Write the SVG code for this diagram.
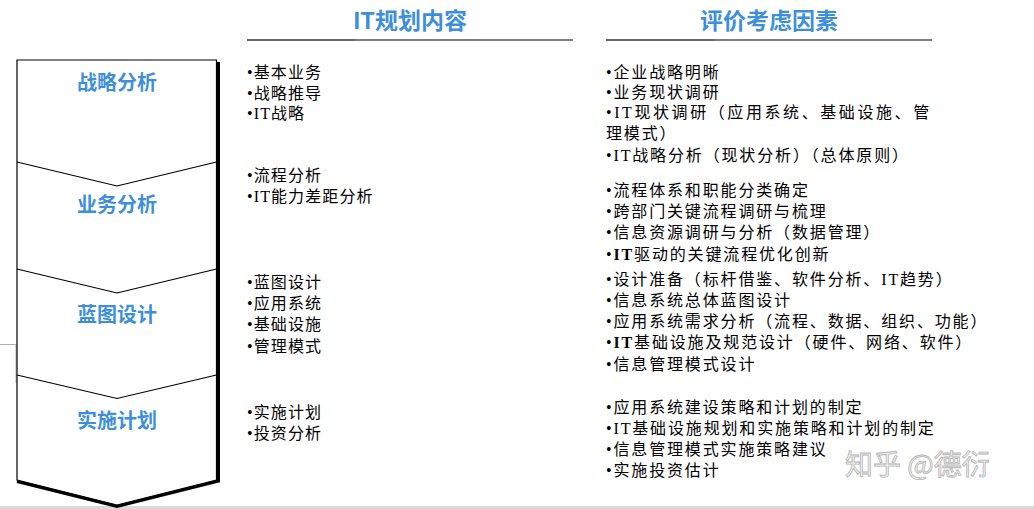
<svg xmlns="http://www.w3.org/2000/svg" width="1034" height="509" viewBox="0 0 1034 509">
<style>
.body{font-family:"Liberation Serif","Noto Sans CJK SC",serif;font-size:16px;fill:#000;letter-spacing:1.85px}
.lc{letter-spacing:1.1px}
.hd{font-family:"Noto Sans CJK SC","Liberation Sans",sans-serif;font-size:23px;font-weight:bold;fill:#3d8fdb;text-anchor:middle}
.stage{font-family:"Noto Sans CJK SC","Liberation Sans",sans-serif;font-size:20px;font-weight:bold;fill:#3d8fdb;text-anchor:middle}
.div{fill:none;stroke:#000;stroke-width:1.2}
</style>
<rect x="0" y="0" width="1034" height="509" fill="#fff"/>
<!-- background artifacts -->
<rect x="0" y="506" width="1034" height="3" fill="#d9d9d9"/>
<path d="M0,344.5 H16 V383" fill="none" stroke="#b0b0b0" stroke-width="1"/>

<!-- headers -->
<g id="header-left">
<text class="hd" x="410" y="29">IT规划内容</text>
<line x1="247" y1="40" x2="355" y2="40" stroke="#666" stroke-width="2"/>
<line x1="355" y1="40" x2="573" y2="40" stroke="#000" stroke-width="1.2"/>
</g>
<g id="header-right">
<text class="hd" x="769" y="29">评价考虑因素</text>
<line x1="606" y1="40" x2="715" y2="40" stroke="#666" stroke-width="2"/>
<line x1="715" y1="40" x2="932" y2="40" stroke="#000" stroke-width="1.2"/>
</g>

<!-- stage column -->
<g id="stages">
<path d="M17,60 H216.5 V480 L117,505 L17,480 Z" fill="#fff" stroke="#000" stroke-width="1.2"/>
<path d="M218.5,62 V481 L117,506.5 L17,481.5" fill="none" stroke="#000" stroke-width="3"/>
</g>
<g id="connectors">
<polyline class="div" points="17,162 117,186 216.5,162"/>
<polyline class="div" points="17,269 117,293 216.5,269"/>
<polyline class="div" points="17,375 117,398.5 216.5,375"/>
</g>
<g id="stage-1"><text class="stage" x="117" y="90">战略分析</text></g>
<g id="stage-2"><text class="stage" x="117" y="212">业务分析</text></g>
<g id="stage-3"><text class="stage" x="117" y="322">蓝图设计</text></g>
<g id="stage-4"><text class="stage" x="117" y="428">实施计划</text></g>

<!-- IT planning contents -->
<g id="content-1" class="body lc">
<text x="247" y="78">•基本业务</text>
<text x="247" y="99">•战略推导</text>
<text x="247" y="119">•IT战略</text>
</g>
<g id="content-2" class="body lc">
<text x="247" y="181">•流程分析</text>
<text x="247" y="202">•IT能力差距分析</text>
</g>
<g id="content-3" class="body lc">
<text x="247" y="288">•蓝图设计</text>
<text x="247" y="309">•应用系统</text>
<text x="247" y="330">•基础设施</text>
<text x="247" y="352">•管理模式</text>
</g>
<g id="content-4" class="body lc">
<text x="247" y="418">•实施计划</text>
<text x="247" y="439">•投资分析</text>
</g>

<!-- evaluation factors -->
<g id="factors-1" class="body">
<text x="606" y="78">•企业战略明晰</text>
<text x="606" y="98">•业务现状调研</text>
<text x="606" y="118" textLength="325" lengthAdjust="spacing">•IT现状调研（应用系统、基础设施、管</text>
<text x="606" y="139">理模式）</text>
<text x="606" y="161">•IT战略分析（现状分析）（总体原则）</text>
</g>
<g id="factors-2" class="body">
<text x="606" y="196">•流程体系和职能分类确定</text>
<text x="606" y="217">•跨部门关键流程调研与梳理</text>
<text x="606" y="238">•信息资源调研与分析（数据管理）</text>
<text x="606" y="260">•<tspan font-weight="bold">IT</tspan>驱动的关键流程优化创新</text>
</g>
<g id="factors-3" class="body">
<text x="606" y="285">•设计准备（标杆借鉴、软件分析、IT趋势）</text>
<text x="606" y="306">•信息系统总体蓝图设计</text>
<text x="606" y="327">•应用系统需求分析（流程、数据、组织、功能）</text>
<text x="606" y="348">•<tspan font-weight="bold">IT</tspan>基础设施及规范设计（硬件、网络、软件）</text>
<text x="606" y="370">•信息管理模式设计</text>
</g>
<g id="factors-4" class="body">
<text x="606" y="413">•应用系统建设策略和计划的制定</text>
<text x="606" y="434">•IT基础设施规划和实施策略和计划的制定</text>
<text x="606" y="455">•信息管理模式实施策略建议</text>
<text x="606" y="476">•实施投资估计</text>
</g>

<!-- watermark -->
<text x="845" y="475" font-family="Noto Sans CJK SC,sans-serif" font-size="28" fill="#f0f0f0" stroke="#b5b5b5" stroke-width="0.8">知乎 @德衍</text>
</svg>
